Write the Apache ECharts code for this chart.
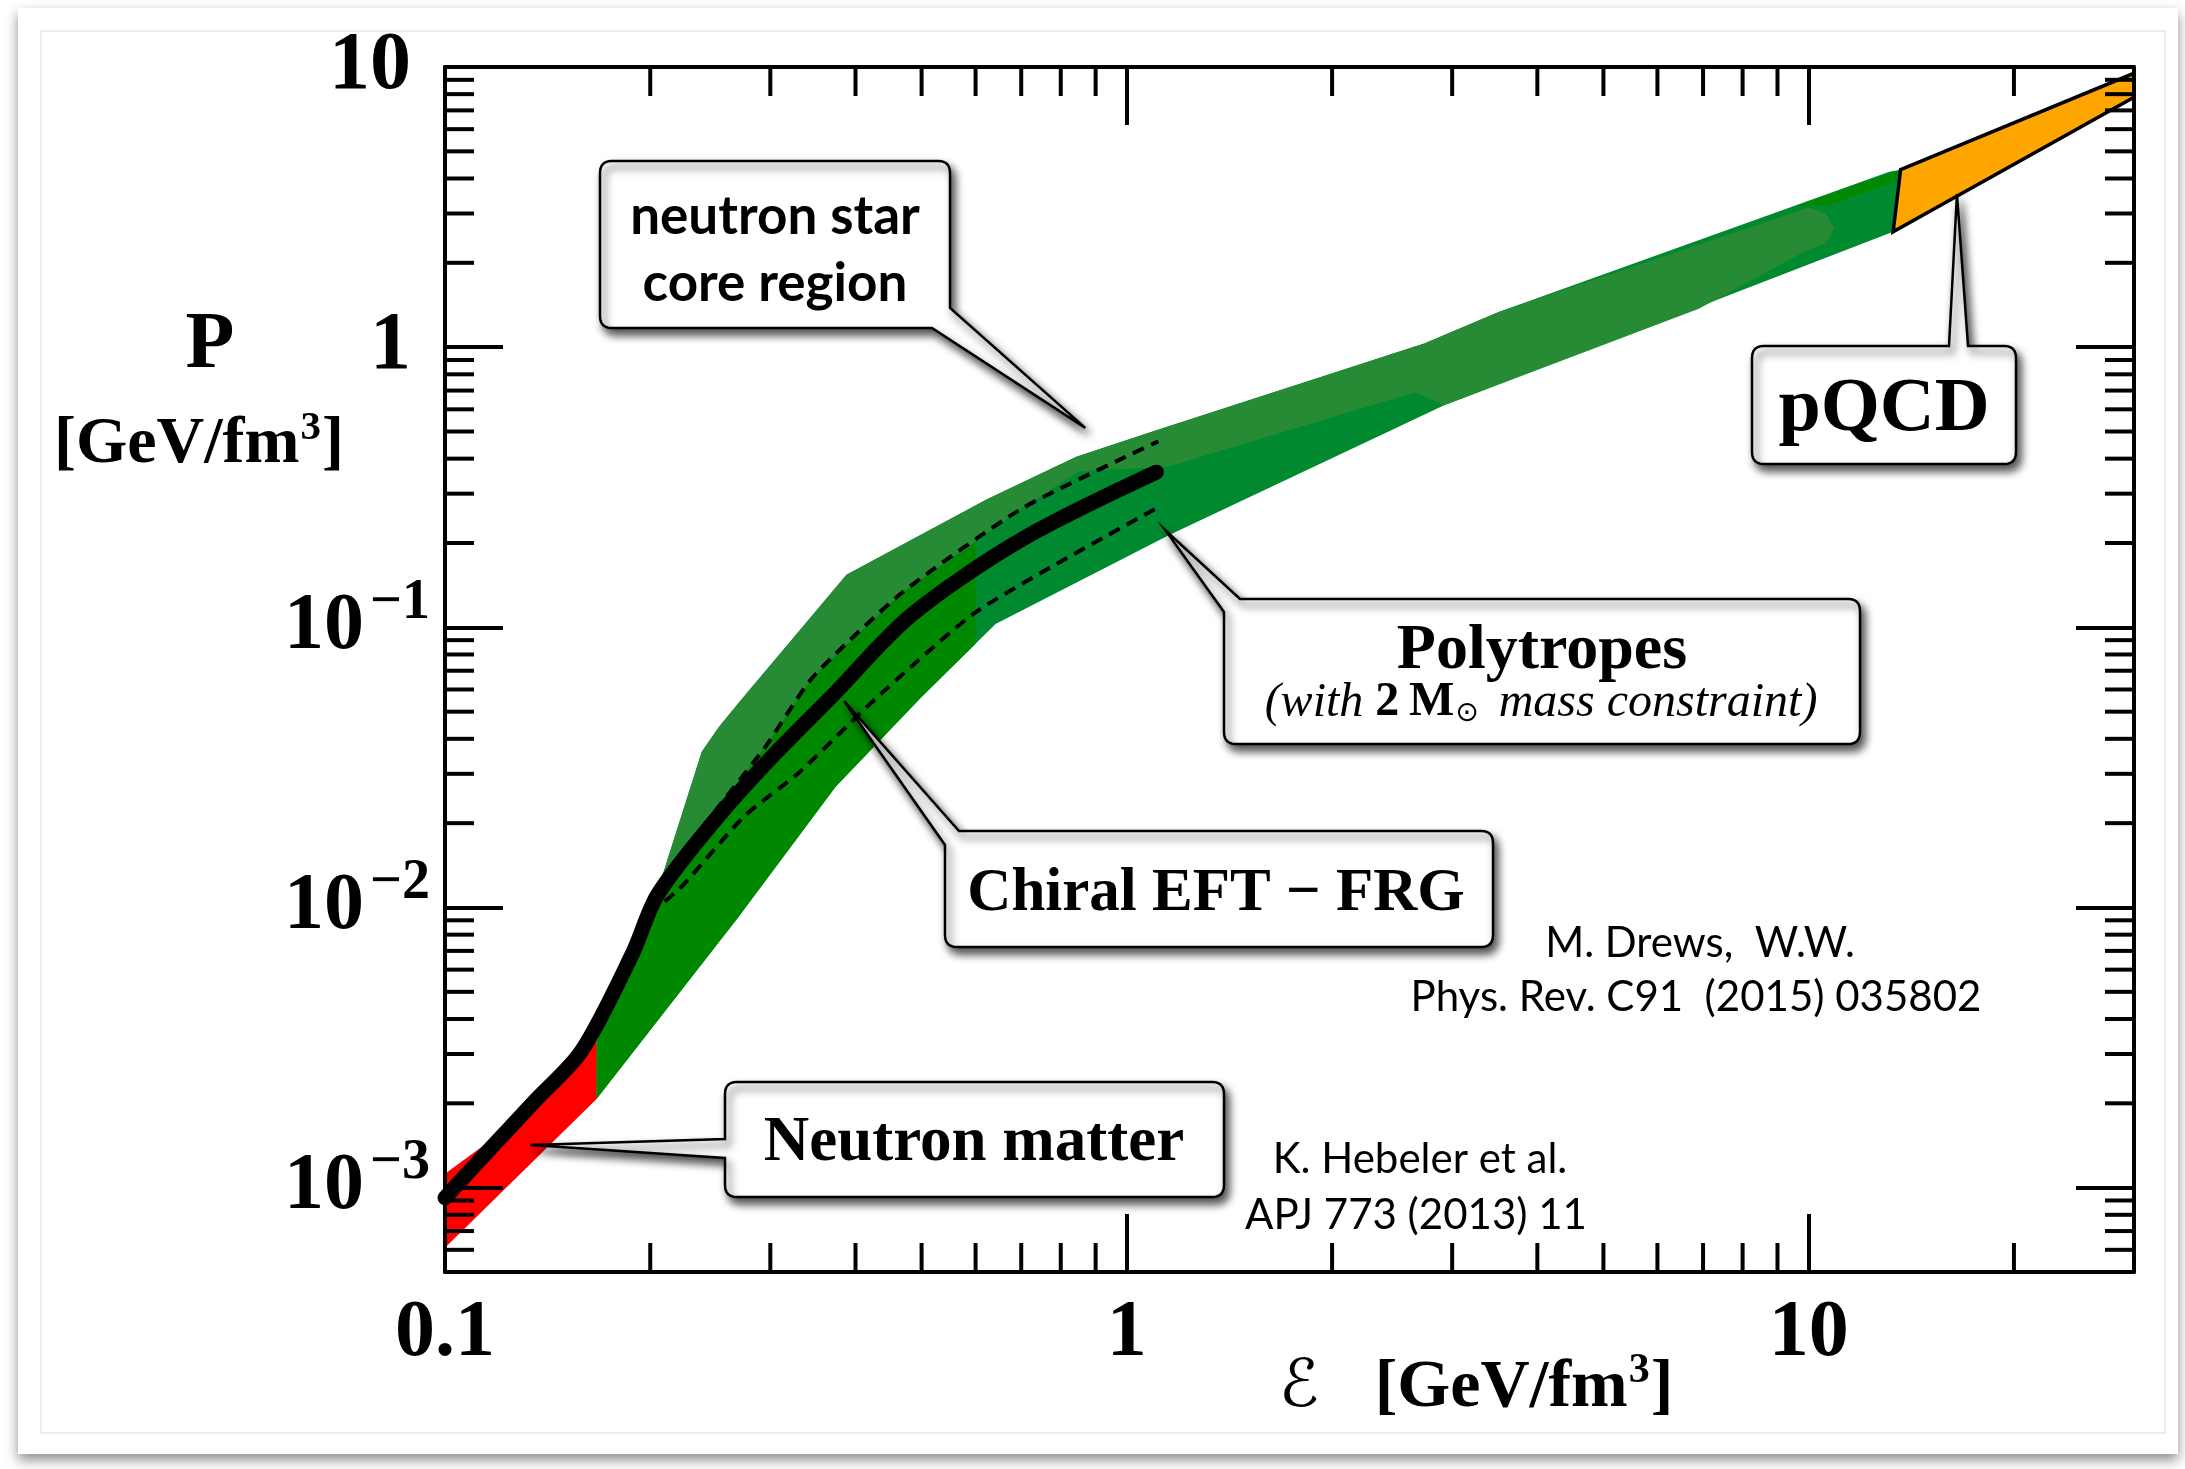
<!DOCTYPE html>
<html>
<head>
<meta charset="utf-8">
<title>Equation of state of neutron star matter</title>
<script src="https://cdn.jsdelivr.net/npm/echarts@6/dist/echarts.min.js"></script>
<style>
  html, body { margin: 0; padding: 0; background: #fff; }
  #chart { width: 2185px; height: 1469px; }
</style>
</head>
<body>
<div id="chart"></div>
<script>
// ---------------- data (energy density ε and pressure P, both GeV/fm^3) ----------------
const X_MIN = 0.1, X_MAX = 30, Y_MIN = 5e-4, Y_MAX = 10;

const xTickValues = [0.1, 1, 10];
const xTickLabels = ['0.1', '1', '10'];
const yTickValues = [1e-3, 1e-2, 1e-1, 1, 10];
const yTickExponents = [-3, -2, -1, 0, 1];

const xMinorTicks = [0.2, 0.3, 0.4, 0.5, 0.6, 0.7, 0.8, 0.9, 2, 3, 4, 5, 6, 7, 8, 9, 20];
const yMinorTicks = [6e-4, 7e-4, 8e-4, 9e-4,
  2e-3, 3e-3, 4e-3, 5e-3, 6e-3, 7e-3, 8e-3, 9e-3,
  0.02, 0.03, 0.04, 0.05, 0.06, 0.07, 0.08, 0.09,
  0.2, 0.3, 0.4, 0.5, 0.6, 0.7, 0.8, 0.9,
  2, 3, 4, 5, 6, 7, 8, 9];

// Neutron matter band (red)
const nmUpperE = [0.1, 0.12, 0.14, 0.1667];
const nmUpperP = [1.12e-3, 1.55e-3, 2.2e-3, 3.4e-3];
const nmLowerE = [0.1, 0.1667];
const nmLowerP = [6.1e-4, 2.07e-3];

// Polytrope band, outer envelope
const polyUpperE = [0.1667, 0.1884, 0.2, 0.238, 0.252, 0.27, 0.388, 0.6236, 0.8433, 1.105, 2.73, 3.51, 13.13, 13.64];
const polyUpperP = [3.3e-3, 6.86e-3, 9.5e-3, 0.036, 0.044, 0.054, 0.154, 0.2867, 0.406, 0.505, 1.03, 1.335, 4.23, 4.30];
const polyLowerE = [0.1667, 0.268, 0.374, 0.497, 0.6418, 1.156, 2.92, 13.3];
const polyLowerP = [2.07e-3, 9.1e-3, 0.027, 0.0556, 0.1028, 0.214, 0.62, 2.58];

// Polytrope band, stiff sub-band
const polyHiUpperE = [0.2, 0.238, 0.252, 0.27, 0.388, 0.6236, 0.8433, 1.105, 2.73, 3.51, 10.0, 10.6, 10.9];
const polyHiUpperP = [9.5e-3, 0.036, 0.044, 0.054, 0.154, 0.2867, 0.406, 0.505, 1.03, 1.335, 3.15, 3.0, 2.65];
const polyHiLowerE = [0.2, 0.2276, 0.2944, 0.346, 0.468, 0.703, 0.85, 1.15, 2.65, 2.92, 6.9, 10.0, 10.6];
const polyHiLowerP = [9.5e-3, 0.01664, 0.0372, 0.0662, 0.1328, 0.2663, 0.36, 0.375, 0.69, 0.62, 1.37, 2.23, 2.35];

// Thin soft-EOS strip along the upper edge near the pQCD matching point
const polyTopE = [9.6, 13.64, 13.6, 10.6];
const polyTopP = [3.2, 4.30, 3.95, 3.2];

// Region covered by the chiral EFT - FRG band
const efUpperE = [0.1667, 0.1884, 0.2, 0.2276, 0.2944, 0.346, 0.468, 0.6];
const efUpperP = [3.3e-3, 6.86e-3, 9.5e-3, 0.01664, 0.0372, 0.0662, 0.1328, 0.2];
const efLowerE = [0.1667, 0.268, 0.374, 0.497, 0.6];
const efLowerP = [2.07e-3, 9.1e-3, 0.027, 0.0556, 0.0874];

// Perturbative QCD band
const pqcdUpperE = [13.64, 30];
const pqcdUpperP = [4.30, 9.5];
const pqcdLowerE = [13.3, 30];
const pqcdLowerP = [2.58, 7.8];

// Chiral EFT - FRG equation of state (central curve and error bounds)
const chiralE = [0.1, 0.115, 0.136, 0.1585, 0.1884, 0.205, 0.248, 0.30, 0.37, 0.483, 0.703, 1.105];
const chiralP = [9.2e-4, 1.33e-3, 2.06e-3, 3.07e-3, 6.86e-3, 0.0111, 0.0203, 0.034, 0.057, 0.1106, 0.2066, 0.358];
const chiralHiE = [0.205, 0.2276, 0.2944, 0.346, 0.468, 0.703, 1.112];
const chiralHiP = [0.0112, 0.01664, 0.0372, 0.0662, 0.1328, 0.2663, 0.461];
const chiralLoE = [0.21, 0.224, 0.275, 0.331, 0.428, 0.605, 1.105];
const chiralLoP = [0.0105, 0.0121, 0.0212, 0.0304, 0.0556, 0.1148, 0.266];

// Points the annotation callouts refer to
const tipCore = [0.869, 0.515];
const tipPQCD = [16.5, 3.52];
const tipNeutron = [0.1335, 1.42e-3];
const tipChiral = [0.385, 0.0545];
const tipPoly = [1.139, 0.222];

// ---------------- drawing ----------------
const SERIF = '"Liberation Serif", "Times New Roman", serif';
const SANS = 'Lato, "Open Sans", sans-serif';
const TICK_MAJOR = 58, TICK_MINOR = 29;

const chart = echarts.init(document.getElementById('chart'), null, { renderer: 'canvas', width: 2185, height: 1469 });

function pairs(es, ps) { return es.map((e, i) => [e, ps[i]]); }
function ring(ue, up, le, lp) { return pairs(ue, up).concat(pairs(le, lp).reverse()); }

function areaSeries(name, data, fill, z, stroke, lw) {
  return {
    name, type: 'custom', coordinateSystem: 'cartesian2d', xAxisIndex: 0, yAxisIndex: 0,
    data, z, silent: true, clip: true,
    renderItem(params, api) {
      if (params.context.rendered) return;
      params.context.rendered = true;
      const points = data.map(d => api.coord(d));
      return {
        type: 'polygon', shape: { points },
        style: { fill, stroke: stroke || null, lineWidth: lw || 0, lineJoin: 'miter' }
      };
    }
  };
}

function minorTickSeries(name, values, dir) {
  const data = values.map(v => dir === 'x' ? [v, Y_MIN] : [X_MIN, v]);
  return {
    name, type: 'custom', coordinateSystem: 'cartesian2d', xAxisIndex: 0, yAxisIndex: 0,
    data, z: 12, silent: true, clip: false,
    renderItem(params, api) {
      const style = { stroke: '#000', lineWidth: 4, fill: null };
      if (dir === 'x') {
        const v = api.value(0);
        const a = api.coord([v, Y_MIN]), b = api.coord([v, Y_MAX]);
        return { type: 'group', children: [
          { type: 'line', shape: { x1: a[0], y1: a[1], x2: a[0], y2: a[1] - TICK_MINOR }, style },
          { type: 'line', shape: { x1: b[0], y1: b[1], x2: b[0], y2: b[1] + TICK_MINOR }, style }
        ] };
      }
      const v = api.value(1);
      const a = api.coord([X_MIN, v]), b = api.coord([X_MAX, v]);
      return { type: 'group', children: [
        { type: 'line', shape: { x1: a[0], y1: a[1], x2: a[0] + TICK_MINOR, y2: a[1] }, style },
        { type: 'line', shape: { x1: b[0], y1: b[1], x2: b[0] - TICK_MINOR, y2: b[1] }, style }
      ] };
    }
  };
}

function isDecade(v) { const l = Math.log10(v); return Math.abs(l - Math.round(l)) < 1e-6; }

function xLabel(v) {
  if (!isDecade(v)) return '';
  const i = xTickValues.findIndex(t => Math.abs(Math.log10(t) - Math.log10(v)) < 1e-6);
  return i < 0 ? '' : xTickLabels[i];
}
function yLabel(v) {
  if (!isDecade(v)) return '';
  const i = yTickValues.findIndex(t => Math.abs(Math.log10(t) - Math.log10(v)) < 1e-6);
  if (i < 0) return '';
  const k = yTickExponents[i];
  if (k === 0) return '{np|1}';
  if (k === 1) return '{np|10}';
  return '{n|10}{s|\u2212' + Math.abs(k) + '}';
}

const axisBase = {
  type: 'log', logBase: 10, z: 10,
  axisLine: { show: true, onZero: false, lineStyle: { color: '#000', width: 4 } },
  axisTick: { show: true, inside: true, length: TICK_MAJOR, lineStyle: { color: '#000', width: 4 } },
  splitLine: { show: false }, minorTick: { show: false }, minorSplitLine: { show: false }
};

const option = {
  backgroundColor: '#fff',
  animation: false,
  grid: { left: 445, top: 67, width: 1689, height: 1205, containLabel: false },
  xAxis: [
    Object.assign({}, axisBase, {
      position: 'bottom', min: X_MIN, max: X_MAX,
      axisLabel: { show: true, formatter: xLabel, margin: 22, color: '#000',
        fontFamily: SERIF, fontWeight: 'bold', fontSize: 80 }
    }),
    Object.assign({}, axisBase, { position: 'top', min: X_MIN, max: X_MAX, axisLabel: { show: false } })
  ],
  yAxis: [
    Object.assign({}, axisBase, {
      position: 'left', min: Y_MIN, max: Y_MAX,
      axisLabel: { show: true, formatter: yLabel, margin: 15,
        rich: {
          n: { fontFamily: SERIF, fontWeight: 'bold', fontSize: 80, color: '#000' },
          np: { fontFamily: SERIF, fontWeight: 'bold', fontSize: 82, color: '#000', padding: [0, 19, 0, 0] },
          s: { fontFamily: SERIF, fontWeight: 'bold', fontSize: 56, color: '#000', padding: [0, 0, 48, 6] }
        } }
    }),
    Object.assign({}, axisBase, { position: 'right', min: Y_MIN, max: Y_MAX, axisLabel: { show: false } })
  ],
  series: [
    areaSeries('Polytropes', ring(polyUpperE, polyUpperP, polyLowerE, polyLowerP), '#00892f', 2),
    areaSeries('Polytropes (stiff)', ring(polyHiUpperE, polyHiUpperP, polyHiLowerE, polyHiLowerP), '#268b34', 3),
    areaSeries('Polytropes (top strip)', pairs(polyTopE, polyTopP), '#008800', 3),
    areaSeries('Chiral EFT region', ring(efUpperE, efUpperP, efLowerE, efLowerP), '#008800', 4),
    areaSeries('Neutron matter', ring(nmUpperE, nmUpperP, nmLowerE, nmLowerP), '#ff0000', 5),
    areaSeries('pQCD', ring(pqcdUpperE, pqcdUpperP, pqcdLowerE, pqcdLowerP), '#ffa500', 5, '#000', 3.5),
    {
      name: 'Chiral EFT upper', type: 'line', data: pairs(chiralHiE, chiralHiP), z: 6,
      symbol: 'none', smooth: 0.2, silent: true,
      lineStyle: { color: '#000', width: 4, type: [12, 8] }
    },
    {
      name: 'Chiral EFT lower', type: 'line', data: pairs(chiralLoE, chiralLoP), z: 6,
      symbol: 'none', smooth: 0.2, silent: true,
      lineStyle: { color: '#000', width: 4, type: [12, 8] }
    },
    {
      name: 'Chiral EFT - FRG', type: 'line', data: pairs(chiralE, chiralP), z: 7,
      symbol: 'none', smooth: 0.3, silent: true, clip: false,
      lineStyle: { color: '#000', width: 15, cap: 'round', join: 'round' }
    },
    minorTickSeries('x minor ticks', xMinorTicks, 'x'),
    minorTickSeries('y minor ticks', yMinorTicks, 'y')
  ]
};

chart.setOption(option);

// ---------------- annotations ----------------
// Outline of a rounded box with a wedge pointing at a data location
function calloutPoints(b, tip) {
  const { x0, y0, x1, y1 } = b, r = 12;
  const P = [];
  const corner = (ax, ay, cx, cy, bx, by) => {
    for (let i = 0; i <= 6; i++) {
      const t = i / 6, u = 1 - t;
      P.push([u * u * ax + 2 * u * t * cx + t * t * bx, u * u * ay + 2 * u * t * cy + t * t * by]);
    }
  };
  if (b.kind === 'tl') P.push([b.xb, y0]); else P.push([x0 + r, y0]);
  if (b.kind === 'top') P.push([b.a, y0], tip, [b.b, y0]);
  corner(x1 - r, y0, x1, y0, x1, y0 + r);
  if (b.kind === 'br') P.push([x1, b.ya], tip, [b.xb, y1]);
  else corner(x1, y1 - r, x1, y1, x1 - r, y1);
  corner(x0 + r, y1, x0, y1, x0, y1 - r);
  if (b.kind === 'left') P.push([x0, b.a], tip, [x0, b.b]);
  if (b.kind === 'tl') P.push([x0, b.ya], tip);
  else corner(x0, y0 + r, x0, y0, x0 + r, y0);
  return P;
}

const toPx = p => chart.convertToPixel({ xAxisIndex: 0, yAxisIndex: 0 }, p);

const callouts = [
  { box: { x0: 600, y0: 161, x1: 950, y1: 328, kind: 'br', ya: 308, xb: 932 }, tip: tipCore },
  { box: { x0: 1752, y0: 346, x1: 2016, y1: 464, kind: 'top', a: 1949, b: 1968 }, tip: tipPQCD },
  { box: { x0: 725, y0: 1082, x1: 1224, y1: 1197, kind: 'left', a: 1158, b: 1139 }, tip: tipNeutron },
  { box: { x0: 945, y0: 831, x1: 1493, y1: 947, kind: 'tl', ya: 845, xb: 959 }, tip: tipChiral },
  { box: { x0: 1224, y0: 599, x1: 1860, y1: 744, kind: 'tl', ya: 612, xb: 1240 }, tip: tipPoly }
];

function txt(text, x, y, font) {
  return {
    type: 'text', z: 30, silent: true,
    style: { text, x, y, font, fill: '#000', align: 'center', verticalAlign: 'middle',
      textAlign: 'center', textVerticalAlign: 'middle' }
  };
}
function unitText(x, y, size) {
  return {
    type: 'text', z: 30, silent: true,
    style: {
      text: '{b|[GeV/fm}{s|3}{b|]}', x, y,
      align: 'center', verticalAlign: 'middle', textAlign: 'center', textVerticalAlign: 'middle',
      rich: {
        b: { fontFamily: SERIF, fontWeight: 'bold', fontSize: size, fill: '#000' },
        s: { fontFamily: SERIF, fontWeight: 'bold', fontSize: Math.round(size * 0.62), fill: '#000',
          padding: [0, 1, Math.round(size * 0.5), 1] }
      }
    }
  };
}

const graphics = [];
// page card with soft drop shadow and a thin inner rule
graphics.push({ type: 'rect', z: -20, silent: true, shape: { x: 18, y: 8, width: 2160, height: 1446 },
  style: { fill: '#fff', shadowBlur: 12, shadowColor: 'rgba(0,0,0,0.45)', shadowOffsetX: 0, shadowOffsetY: 6 } });
graphics.push({ type: 'rect', z: -19, silent: true, shape: { x: 41, y: 31, width: 2124, height: 1402 },
  style: { fill: null, stroke: '#ececec', lineWidth: 2 } });

callouts.forEach(c => {
  graphics.push({
    type: 'polygon', z: 20, silent: true,
    shape: { points: calloutPoints(c.box, toPx(c.tip)) },
    style: { fill: '#fff', stroke: '#000', lineWidth: 2.5, lineJoin: 'miter',
      shadowBlur: 9, shadowColor: 'rgba(0,0,0,0.7)', shadowOffsetX: 4, shadowOffsetY: 6 }
  });
});

// callout texts
graphics.push(txt('neutron star', 775, 217, 'bold 53px ' + SANS));
graphics.push(txt('core region', 775, 284, 'bold 53px ' + SANS));
graphics.push(txt('pQCD', 1884, 410, 'bold 76px ' + SERIF));
graphics.push(txt('Neutron matter', 974, 1144, 'bold 63px ' + SERIF));
graphics.push(txt('Chiral EFT \u2212 FRG', 1216, 894, 'bold 61px ' + SERIF));
graphics.push(txt('Polytropes', 1542, 651, 'bold 64px ' + SERIF));
graphics.push({
  type: 'text', z: 30, silent: true,
  style: {
    text: '{i|(with }{b|2\u2009M}{o|\u2299}{i| mass constraint)}',
    x: 1541, y: 703, align: 'center', verticalAlign: 'middle', textAlign: 'center', textVerticalAlign: 'middle',
    rich: {
      i: { fontFamily: SERIF, fontStyle: 'italic', fontSize: 48, fill: '#000' },
      b: { fontFamily: SERIF, fontWeight: 'bold', fontSize: 48, fill: '#000' },
      o: { fontFamily: '"DejaVu Sans", sans-serif', fontSize: 28, fill: '#000', padding: [22, 8, 0, 1] }
    }
  }
});

// references
graphics.push(txt('M. Drews,  W.W.', 1700, 943, '42px ' + SANS));
graphics.push(txt('Phys. Rev. C91  (2015) 035802', 1696, 997, '42px ' + SANS));
graphics.push(txt('K. Hebeler et al.', 1420, 1159, '42px ' + SANS));
graphics.push(txt('APJ 773 (2013) 11', 1416, 1215, '42px ' + SANS));

// axis titles
graphics.push(txt('P', 210, 346, 'bold 80px ' + SERIF));
graphics.push(unitText(199, 445, 66));
graphics.push(txt('\u2130', 1299, 1389, '66px "DejaVu Serif", "DejaVu Sans", serif'));
graphics.push(unitText(1524, 1388, 68));

chart.setOption({ graphic: { elements: graphics } });
</script>
</body>
</html>
